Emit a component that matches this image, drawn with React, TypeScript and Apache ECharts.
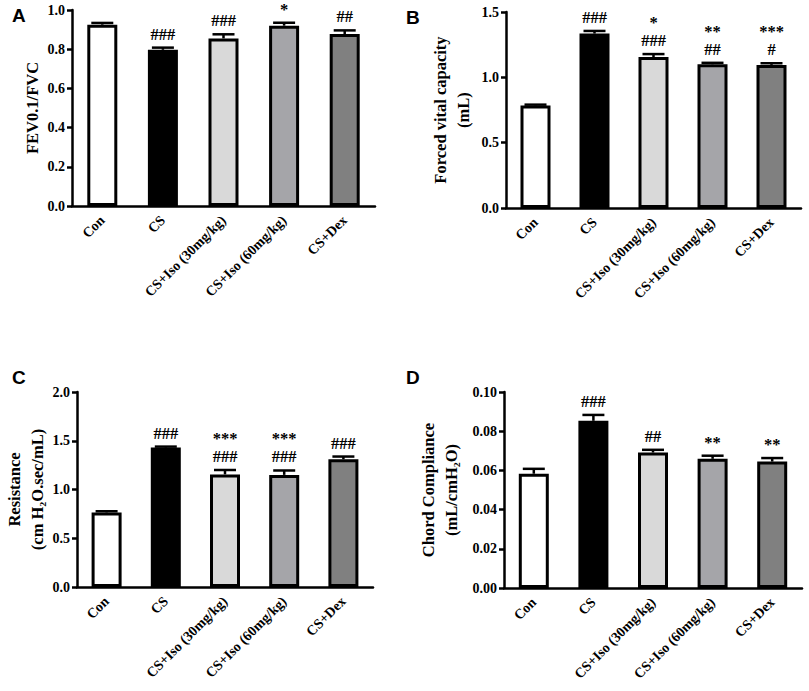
import React, { useEffect, useRef } from "react";
import * as echarts from "echarts";

const CATEGORIES = ["Con", "CS", "CS+Iso (30mg/kg)", "CS+Iso (60mg/kg)", "CS+Dex"];

// Panel A: FEV0.1/FVC
const A_MEAN = [0.925, 0.797, 0.855, 0.92, 0.877];
const A_SEM = [0.009, 0.011, 0.021, 0.015, 0.019];
const A_ANN = ["", "###", "###", "*", "##"];
const A_TICKS = { min: 0, max: 1.0, interval: 0.2 };

// Panel B: Forced vital capacity (mL)
const B_MEAN = [0.785, 1.335, 1.155, 1.1, 1.095];
const B_SEM = [0.006, 0.02, 0.023, 0.011, 0.013];
const B_ANN = ["", "###", "*\n###", "**\n##", "***\n#"];
const B_TICKS = { min: 0, max: 1.5, interval: 0.5 };

// Panel C: Resistance (cm H2O.sec/mL)
const C_MEAN = [0.765, 1.43, 1.155, 1.15, 1.31];
const C_SEM = [0.012, 0.01, 0.045, 0.045, 0.028];
const C_ANN = ["", "###", "***\n###", "***\n###", "###"];
const C_TICKS = { min: 0, max: 2.0, interval: 0.5 };

// Panel D: Chord Compliance (mL/cmH2O)
const D_MEAN = [0.0583, 0.0853, 0.0691, 0.0659, 0.0645];
const D_SEM = [0.0025, 0.003, 0.0014, 0.0016, 0.0018];
const D_ANN = ["", "###", "##", "**", "**"];
const D_TICKS = { min: 0, max: 0.1, interval: 0.02 };

const BAR_COLORS = ["#ffffff", "#000000", "#d9d9d9", "#a5a5a9", "#808080"];
const SERIF = "'Liberation Serif', 'Times New Roman', serif";

const PANELS = [
  { key: "A", mean: A_MEAN, sem: A_SEM, ann: A_ANN, ticks: A_TICKS, dec: 1, name: "FEV0.1/FVC", gap: 27,
    grid: { left: 72, top: 10, width: 303, height: 196 }, letter: [12, 6] },
  { key: "B", mean: B_MEAN, sem: B_SEM, ann: B_ANN, ticks: B_TICKS, dec: 1, name: "Forced vital capacity\n(mL)", gap: 31,
    grid: { left: 506, top: 12, width: 295, height: 196 }, letter: [406, 8] },
  { key: "C", mean: C_MEAN, sem: C_SEM, ann: C_ANN, ticks: C_TICKS, dec: 1, name: "Resistance\n(cm H\u2082O.sec/mL)", gap: 27,
    grid: { left: 77, top: 392, width: 296, height: 195 }, letter: [12, 368] },
  { key: "D", mean: D_MEAN, sem: D_SEM, ann: D_ANN, ticks: D_TICKS, dec: 2, name: "Chord Compliance\n(mL/cmH\u2082O)", gap: 41,
    grid: { left: 504, top: 392, width: 298, height: 196 }, letter: [406, 368] },
];

export default function App() {
  const ref = useRef<HTMLDivElement>(null);
  useEffect(() => {
    if (!ref.current) return;
    const chart = echarts.init(ref.current, null, { renderer: "svg" });

    const grids: any[] = [];
    const xAxes: any[] = [];
    const yAxes: any[] = [];
    const series: any[] = [];
    const graphics: any[] = [];

    PANELS.forEach((p, i) => {
      grids.push({ ...p.grid, containLabel: false });
      xAxes.push({
        type: "category",
        gridIndex: i,
        data: CATEGORIES,
        axisLine: { lineStyle: { color: "#000", width: 2.5 } },
        axisTick: { alignWithLabel: true, length: 6, lineStyle: { color: "#000", width: 2.5 } },
        axisLabel: {
          rotate: 45,
          margin: 12,
          interval: 0,
          color: "#000",
          fontFamily: SERIF,
          fontWeight: "bold",
          fontSize: 14,
        },
        splitLine: { show: false },
      });
      yAxes.push({
        type: "value",
        gridIndex: i,
        min: p.ticks.min,
        max: p.ticks.max,
        interval: p.ticks.interval,
        name: p.name,
        nameLocation: "middle",
        nameRotate: 90,
        nameGap: p.gap,
        nameTextStyle: {
          color: "#000",
          fontFamily: SERIF,
          fontWeight: "bold",
          fontSize: 16.5,
          lineHeight: 23,
          align: "center",
        },
        axisLine: { show: true, lineStyle: { color: "#000", width: 2.5 } },
        axisTick: { show: true, length: 5, lineStyle: { color: "#000", width: 2.5 } },
        axisLabel: {
          margin: 7,
          color: "#000",
          fontFamily: SERIF,
          fontWeight: "bold",
          fontSize: 14,
          formatter: (v: number) => v.toFixed(p.dec),
        },
        splitLine: { show: false },
      });
      series.push({
        type: "bar",
        xAxisIndex: i,
        yAxisIndex: i,
        barWidth: 30,
        data: p.mean.map((v, j) => ({
          value: v,
          itemStyle: { color: BAR_COLORS[j], borderColor: "#000", borderWidth: 3 },
        })),
        z: 2,
      });
      const ann = p.ann;
      series.push({
        type: "custom",
        xAxisIndex: i,
        yAxisIndex: i,
        data: p.mean.map((v, j) => [j, v, v + p.sem[j]]),
        z: 3,
        renderItem: (params: any, api: any) => {
          const idx = api.value(0);
          const base = api.coord([idx, api.value(1)]);
          const top = api.coord([idx, api.value(2)]);
          const x = base[0];
          const half = 11;
          const children: any[] = [
            {
              type: "line",
              shape: { x1: x, y1: base[1], x2: x, y2: top[1] },
              style: { stroke: "#000", lineWidth: 2.5 },
            },
            {
              type: "line",
              shape: { x1: x - half, y1: top[1], x2: x + half, y2: top[1] },
              style: { stroke: "#000", lineWidth: 2.5 },
            },
          ];
          const t = ann[params.dataIndex];
          if (t) {
            children.push({
              type: "text",
              style: {
                text: t,
                x: x,
                y: top[1] - 4.5,
                textAlign: "center",
                textVerticalAlign: "bottom",
                fill: "#000",
                fontFamily: SERIF,
                fontWeight: "bold",
                fontSize: 16.5,
                lineHeight: 18,
              },
            });
          }
          return { type: "group", children };
        },
      });
      graphics.push({
        type: "text",
        left: p.letter[0],
        top: p.letter[1],
        style: {
          text: p.key,
          fill: "#000",
          font: "bold 19px 'Liberation Sans', Arial, sans-serif",
        },
      });
    });

    chart.setOption({
      animation: false,
      backgroundColor: "#ffffff",
      grid: grids,
      xAxis: xAxes,
      yAxis: yAxes,
      series,
      graphic: graphics,
    });
    return () => chart.dispose();
  }, []);

  return (
    <div
      ref={ref}
      style={{ position: "absolute", left: 0, top: 0, width: 809, height: 691, background: "#fff" }}
    />
  );
}
